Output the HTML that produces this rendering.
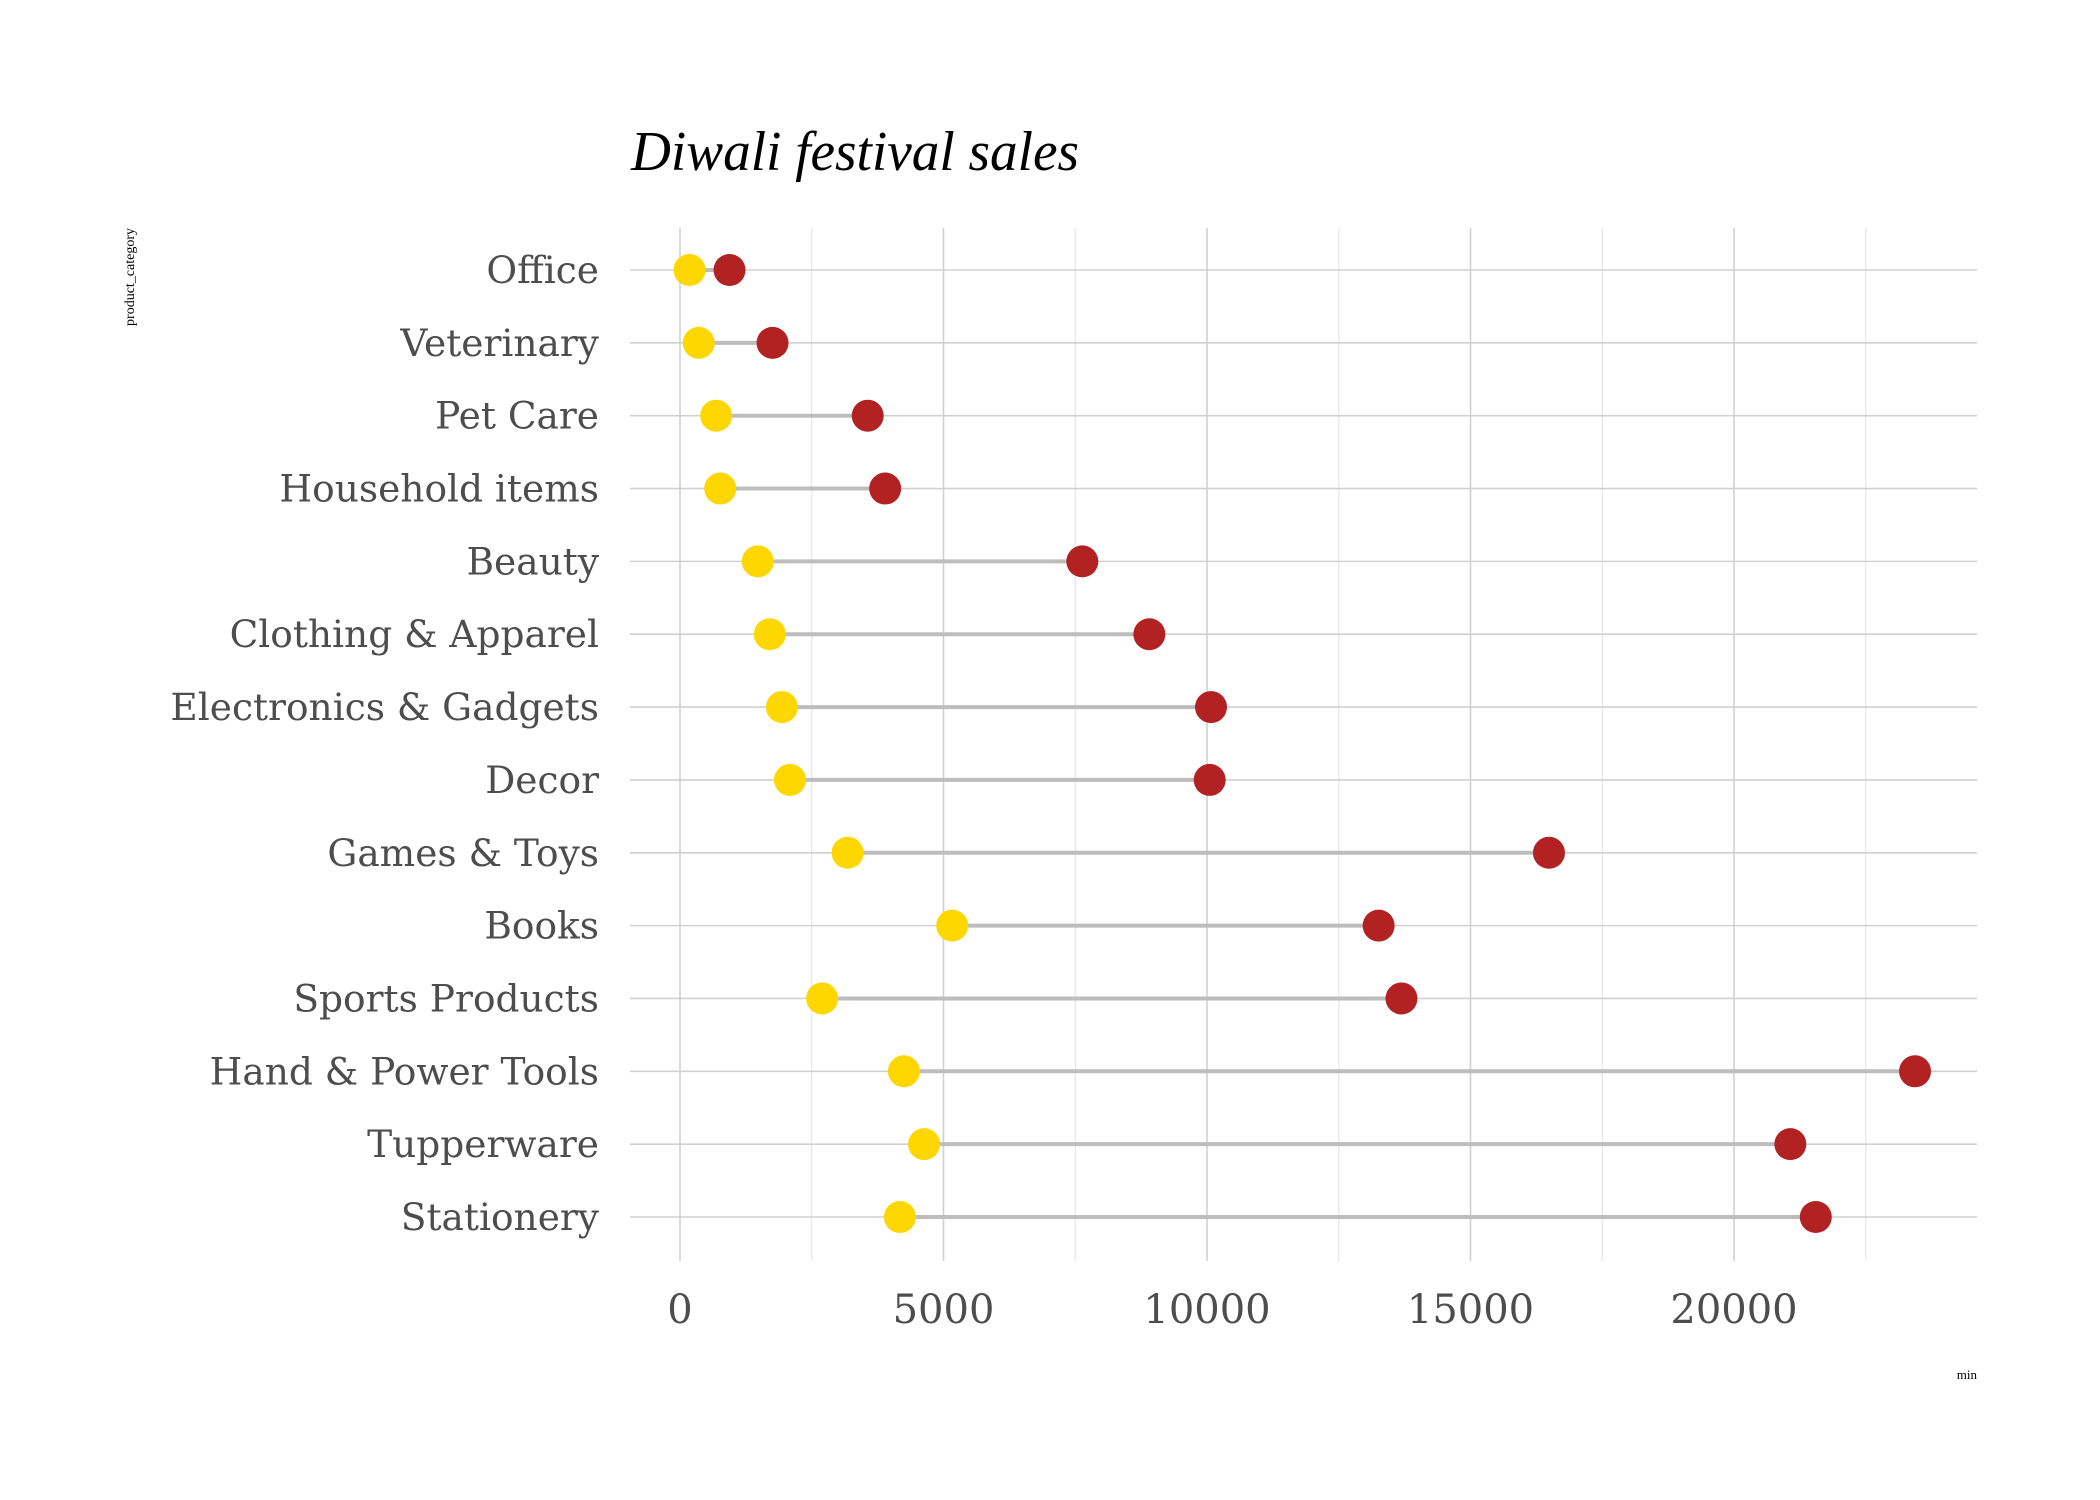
<!DOCTYPE html>
<html><head><meta charset="utf-8"><style>
html,body{margin:0;padding:0;background:#fff;}
svg{display:block;}
</style></head><body>
<svg id="chart" width="2100" height="1500" viewBox="0 0 2100 1500" xmlns="http://www.w3.org/2000/svg">
<rect width="2100" height="1500" fill="#fff"/>
<text x="631" y="170" font-family="'Liberation Serif', serif" font-style="italic" font-size="56" fill="#000" textLength="448" lengthAdjust="spacingAndGlyphs">Diwali festival sales</text>
<text transform="translate(134,228) rotate(-90)" text-anchor="end" font-family="'Liberation Serif', serif" font-size="14" fill="#000">product_category</text>
<text x="1977" y="1379" text-anchor="end" font-family="'Liberation Serif', serif" font-size="13" fill="#000">min</text>
<g id="grid"></g><g id="segs"></g><g id="dots"></g><g id="labels"></g>
</svg>
<script>
const categories = ["Office","Veterinary","Pet Care","Household items","Beauty","Clothing & Apparel","Electronics & Gadgets","Decor","Games & Toys","Books","Sports Products","Hand & Power Tools","Tupperware","Stationery"];
const minValues = [180,356,687,763,1476,1705,1934,2087,3181,5165,2697,4249,4631,4173];
const maxValues = [940,1756,3562,3893,7634,8906,10076,10051,16489,13257,13690,23435,21069,21552];
const majorTicks = [0,5000,10000,15000,20000];
const minorTicks = [2500,7500,12500,17500,22500];

const NS="http://www.w3.org/2000/svg";
const L=630,R=1977,T=228,B=1261;
const x=v=>680+v*(1054/20000);
const y=i=>270+i*((1217-270)/13);
function mk(tag,attrs,parent){const e=document.createElementNS(NS,tag);for(const k in attrs)e.setAttribute(k,attrs[k]);parent.appendChild(e);return e;}
const grid=document.getElementById('grid'),segs=document.getElementById('segs'),dots=document.getElementById('dots'),labels=document.getElementById('labels');
const ff="'DejaVu Serif', serif";
minorTicks.forEach(t=>{const l=mk('line',{x1:x(t),x2:x(t),y1:T,y2:B,stroke:'#e6e6e6','stroke-width':1.2},grid);

});
majorTicks.forEach(t=>{const l=mk('line',{x1:x(t),x2:x(t),y1:T,y2:B,stroke:'#d0d0d0','stroke-width':1.6},grid);


const tx=mk('text',{x:x(t),y:1323,'text-anchor':'middle','font-family':ff,'font-size':40,fill:'#4d4d4d'},labels);tx.textContent=t;

});
categories.forEach((c,i)=>{
const g=mk('line',{x1:L,x2:R,y1:y(i),y2:y(i),stroke:'#d0d0d0','stroke-width':1.6},grid);


const s=mk('line',{x1:x(minValues[i]),x2:x(maxValues[i]),y1:y(i),y2:y(i),stroke:'#bdbdbd','stroke-width':4},segs);


const a=mk('circle',{cx:x(minValues[i]),cy:y(i),r:16,fill:'#ffd700'},dots);


const b=mk('circle',{cx:x(maxValues[i]),cy:y(i),r:16,fill:'#b22222'},dots);


const t=mk('text',{x:599,y:y(i)+13,'text-anchor':'end','font-family':ff,'font-size':37.5,fill:'#4d4d4d'},labels);t.textContent=c;


});
</script>
</body></html>
